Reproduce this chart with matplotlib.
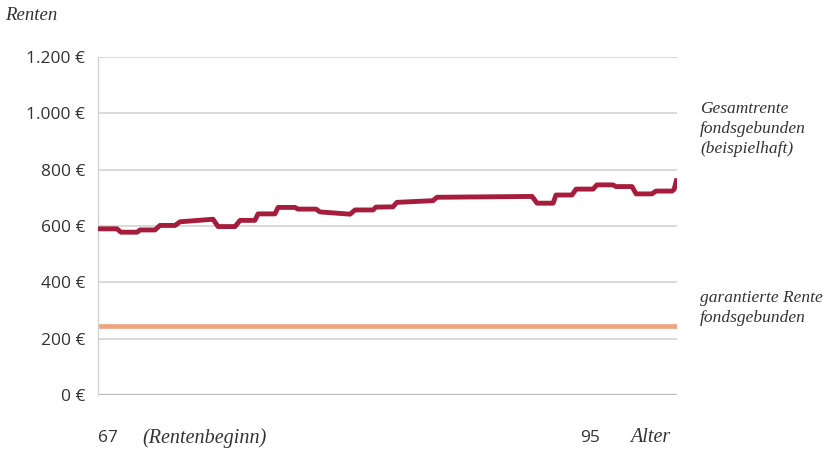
import numpy as np
import matplotlib.pyplot as plt

# Gesamtrente fondsgebunden (beispielhaft): Knickpunkte der Linie
alter = [67.0, 67.98, 68.19, 69.02, 69.18, 69.95, 70.21, 70.99, 71.25, 72.96,
         73.22, 74.10, 74.36, 75.13, 75.29, 76.17, 76.33, 77.21, 77.36, 78.30,
         78.50, 80.06, 80.32, 81.25, 81.40, 82.28, 82.49, 84.36, 84.56, 89.49,
         89.75, 90.58, 90.73, 91.56, 91.77, 92.65, 92.85, 93.68, 93.84, 94.67,
         94.88, 95.70, 95.91, 96.74, 96.85, 97.0]
gesamtrente = [590, 590, 578, 578, 586, 586, 602, 602, 615, 624,
               598, 598, 620, 620, 643, 643, 666, 666, 660, 660,
               650, 642, 657, 657, 667, 668, 684, 690, 702, 705,
               681, 681, 710, 710, 731, 731, 746, 746, 740, 740,
               714, 714, 724, 724, 730, 769]

garantie_alter = [67.0, 97.0]
garantie_rente = [245, 245]

y_ticks = [0, 200, 400, 600, 800, 1000, 1200]
y_labels = ["0 €", "200 €", "400 €", "600 €", "800 €", "1.000 €", "1.200 €"]

rot = '#a51c3c'
orange = '#eea481'
text_col = '#333333'
serif = ['Liberation Serif', 'DejaVu Serif']
sans = ['Open Sans', 'DejaVu Sans']

W, H = 839, 450
fig = plt.figure(figsize=(W / 100, H / 100), dpi=100)
ax = fig.add_axes([98 / W, 1 - 395 / H, (677 - 98) / W, (395 - 57) / H])

ax.set_xlim(67, 97)
ax.set_ylim(0, 1200)

for v in y_ticks[1:]:
    ax.axhline(v, color='#cfcfcf', lw=1.1, zorder=1)
ax.axhline(0, color='#bdbdbd', lw=2.4, zorder=1)

ax.plot(garantie_alter, garantie_rente, color=orange, lw=3.4, solid_capstyle='butt', zorder=2)
ax.plot(alter, gesamtrente, color=rot, lw=3.5, solid_joinstyle='round',
        solid_capstyle='butt', zorder=3)

for s in ['top', 'right', 'bottom']:
    ax.spines[s].set_visible(False)
ax.spines['left'].set_color('#d4d4d4')
ax.spines['left'].set_linewidth(1.0)

ax.set_xticks([])
ax.set_yticks(y_ticks)
ax.set_yticklabels(y_labels, fontfamily=sans, fontsize=12.5, color=text_col)
ax.tick_params(axis='y', length=0, pad=9)

# Beschriftungen
def px(x, y):
    return x / W, 1 - y / H

fig.text(*px(5, 15), "Renten", fontfamily=serif, style='italic', fontsize=13.5,
         color=text_col, va='center')

fig.text(*px(700, 129), "Gesamtrente\nfondsgebunden\n(beispielhaft)", fontfamily=serif,
         style='italic', fontsize=12.5, color=text_col, va='center', linespacing=1.3)
fig.text(*px(700, 308), "garantierte Rente\nfondsgebunden", fontfamily=serif,
         style='italic', fontsize=12.5, color=text_col, va='center', linespacing=1.3)

fig.text(*px(98, 438), "67", fontfamily=sans, fontsize=12.5, color=text_col, va='center')
fig.text(*px(142, 438), "(Rentenbeginn)", fontfamily=serif, style='italic', fontsize=14.5,
         color=text_col, va='center')
fig.text(*px(580, 438), "95", fontfamily=sans, fontsize=12.5, color=text_col, va='center')
fig.text(*px(630, 438), "Alter", fontfamily=serif, style='italic', fontsize=14.5,
         color=text_col, va='center')

fig.savefig('out.png', dpi=100)
